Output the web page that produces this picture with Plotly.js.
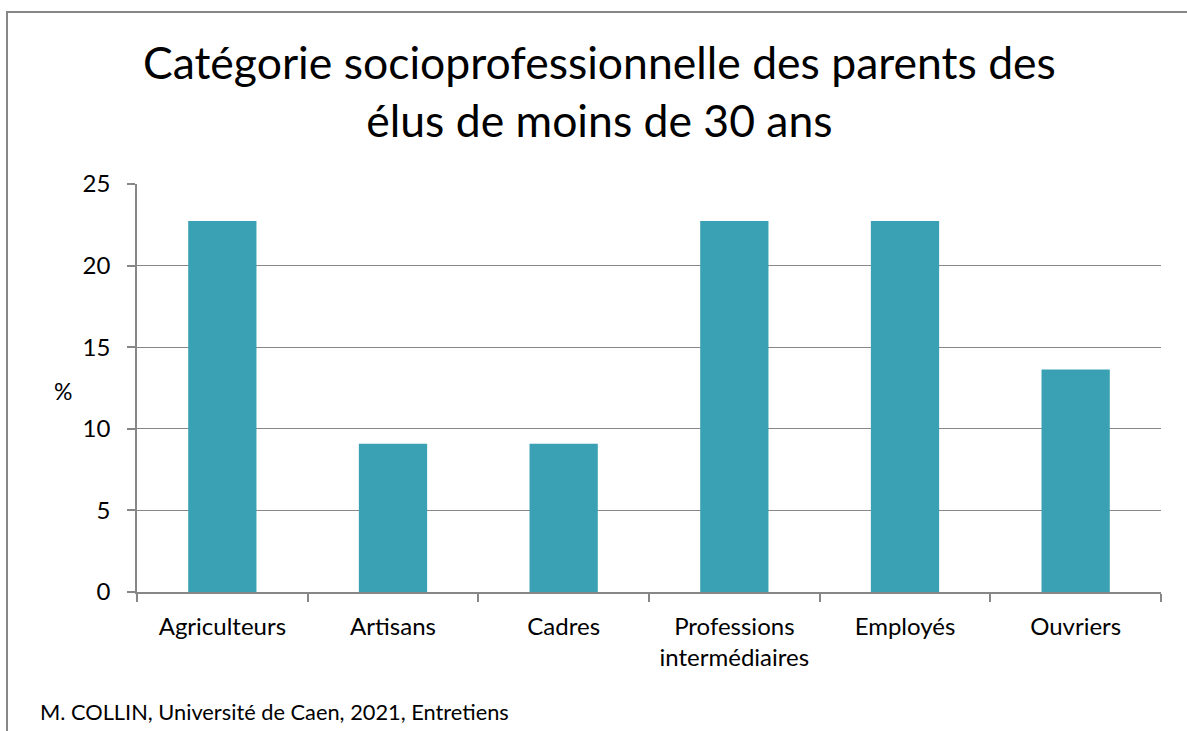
<!DOCTYPE html>
<html>
<head>
<meta charset="utf-8">
<script src="https://cdn.plot.ly/plotly-3.0.1.min.js"></script>
<style>
  html, body { margin: 0; padding: 0; background: #fff; }
  #wrap { position: relative; width: 1187px; height: 731px; }
  #chart { width: 1187px; height: 731px; }
  #frame { position: absolute; left: 6px; top: 11px; width: 1200px; height: 800px;
           border: 2px solid #878787; box-sizing: border-box; pointer-events: none; }
</style>
</head>
<body>
<div id="wrap">
  <div id="chart"></div>
  <div id="frame"></div>
</div>
<script>
const categories = ["Agriculteurs", "Artisans", "Cadres", "Professions intermédiaires", "Employés", "Ouvriers"];
const tickLabels = ["Agriculteurs", "Artisans", "Cadres", "Professions<br>intermédiaires", "Employés", "Ouvriers"];
const percentages = [22.73, 9.09, 9.09, 22.73, 22.73, 13.64];
const yTicks = [0, 5, 10, 15, 20, 25];

const FONT = "Lato, 'Open Sans', sans-serif";
const AXIS = "#878787";

const trace = {
  type: "bar",
  x: categories,
  y: percentages,
  marker: { color: "#3AA0B4", line: { width: 0 } },
  hoverinfo: "x+y"
};

const layout = {
  width: 1187,
  height: 731,
  paper_bgcolor: "#ffffff",
  plot_bgcolor: "#ffffff",
  margin: { l: 137, r: 26, t: 184, b: 139, pad: 0 },
  showlegend: false,
  bargap: 0.6,
  font: { family: FONT, color: "#000000" },
  title: {
    text: "Catégorie socioprofessionnelle des parents des<br>élus de moins de 30 ans",
    font: { family: FONT, size: 44.5, color: "#000000" },
    x: 0.505, xref: "container", xanchor: "center",
    y: 0.892, yref: "container", yanchor: "top"
  },
  xaxis: {
    type: "category",
    tickmode: "array",
    tickvals: categories,
    ticktext: tickLabels,
    tickson: "boundaries",
    ticks: "outside",
    ticklen: 8,
    tickwidth: 1.5,
    tickcolor: AXIS,
    showline: true,
    linecolor: AXIS,
    linewidth: 1.5,
    showgrid: false,
    zeroline: false,
    tickfont: { family: FONT, size: 24, color: "#000000" },
    ticklabelstandoff: 12
  },
  yaxis: {
    range: [0, 25],
    tickmode: "array",
    tickvals: yTicks,
    ticks: "outside",
    ticklen: 8,
    tickwidth: 1.5,
    tickcolor: AXIS,
    showline: true,
    linecolor: AXIS,
    linewidth: 1.5,
    showgrid: true,
    gridcolor: AXIS,
    gridwidth: 1.2,
    zeroline: false,
    tickfont: { family: FONT, size: 24, color: "#000000" },
    ticklabelstandoff: 12
  },
  annotations: [
    {
      text: "%", xref: "paper", yref: "paper",
      x: (63 - 137) / 1024, y: (591 - 390) / 407,
      xanchor: "center", yanchor: "middle", showarrow: false,
      font: { family: FONT, size: 23, color: "#000000" }
    },
    {
      text: "M. COLLIN, Université de Caen, 2021, Entretiens",
      xref: "paper", yref: "paper",
      x: (38 - 137) / 1024, y: (591 - 710) / 407,
      xanchor: "left", yanchor: "middle", showarrow: false,
      font: { family: FONT, size: 21.8, color: "#000000" }
    }
  ]
};

Plotly.newPlot("chart", [trace], layout, { displayModeBar: false, staticPlot: false });
</script>
</body>
</html>
